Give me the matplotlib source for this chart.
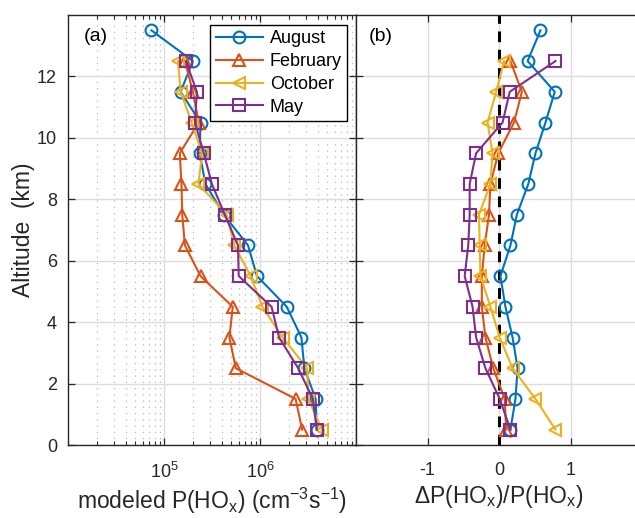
import matplotlib
matplotlib.use("Agg")
import matplotlib.pyplot as plt
from matplotlib.ticker import LogLocator, NullFormatter, FixedLocator

plt.rcParams['font.family'] = ['Liberation Sans', 'DejaVu Sans']
plt.rcParams['mathtext.fontset'] = 'custom'
plt.rcParams['mathtext.rm'] = 'Liberation Sans'
plt.rcParams['mathtext.it'] = 'Liberation Sans'

# ---------------- data ----------------
alt_aug = [13.5, 12.5, 11.5, 10.5, 9.5, 8.5, 7.5, 6.5, 5.5, 4.5, 3.5, 2.5, 1.5, 0.5]
alt_oth = [12.5, 11.5, 10.5, 9.5, 8.5, 7.5, 6.5, 5.5, 4.5, 3.5, 2.5, 1.5, 0.5]

p_aug = [7.4e4, 2.0e5, 1.49e5, 2.4e5, 2.35e5, 2.7e5, 4.2e5, 7.5e5, 9.3e5, 1.9e6, 2.7e6, 2.9e6, 3.8e6, 3.9e6]
p_feb = [1.65e5, 2.0e5, 2.3e5, 1.46e5, 1.52e5, 1.55e5, 1.65e5, 2.4e5, 5.2e5, 4.8e5, 5.6e5, 2.35e6, 2.75e6]
p_oct = [1.4e5, 1.49e5, 1.94e5, 2.5e5, 2.28e5, 4.5e5, 5.4e5, 8.0e5, 1.06e6, 1.72e6, 3.1e6, 3.2e6, 4.4e6]
p_may = [1.69e5, 2.2e5, 2.1e5, 2.6e5, 3.15e5, 4.3e5, 5.9e5, 6.0e5, 1.32e6, 1.58e6, 2.5e6, 3.55e6, 3.9e6]

d_aug = [0.58, 0.40, 0.78, 0.65, 0.51, 0.41, 0.25, 0.16, 0.02, 0.09, 0.19, 0.26, 0.23, 0.16]
d_feb = [0.16, 0.32, 0.21, -0.01, -0.12, -0.14, -0.20, -0.24, -0.24, -0.19, -0.08, 0.08, 0.10]
d_oct = [0.07, -0.04, -0.16, -0.09, -0.12, -0.28, -0.27, -0.26, -0.12, 0.01, 0.19, 0.51, 0.79]
d_may = [0.79, 0.15, 0.05, -0.32, -0.41, -0.41, -0.43, -0.48, -0.37, -0.32, -0.19, 0.01, 0.16]

labels = ['August', 'February', 'October', 'May']
colors = ['#0072BD', '#D95319', '#EDB120', '#7E2F8E']
markers = ['o', '^', '<', 's']

ytick_vals = [0, 2, 4, 6, 8, 10, 12]
xtick_left = [1e5, 1e6]
xtick_right = [-1, 0, 1]

# ---------------- figure ----------------
W, H = 635, 518
fig = plt.figure(figsize=(W / 100, H / 100), dpi=100)

def ax_rect(x0, x1, y0, y1):
    return [x0 / W, 1 - y1 / H, (x1 - x0) / W, (y1 - y0) / H]

axL = fig.add_axes(ax_rect(68, 356, 15, 445))
axR = fig.add_axes(ax_rect(356, 642, 15, 445))

lw = 1.5
ms = 8.5
tick_fs = 13
lab_fs = 16.5

series_L = [(alt_aug, p_aug), (alt_oth, p_feb), (alt_oth, p_oct), (alt_oth, p_may)]
series_R = [(alt_aug, d_aug), (alt_oth, d_feb), (alt_oth, d_oct), (alt_oth, d_may)]

for (a, v), lab, c, m in zip(series_L, labels, colors, markers):
    axL.plot(v, a, color=c, marker=m, markersize=ms, markerfacecolor='none',
             markeredgewidth=1.5, linewidth=lw, label=lab, zorder=3)

axR.axvline(0, color='black', linestyle=(0, (3.5, 2.5)), linewidth=2.2, zorder=2)
for (a, v), lab, c, m in zip(series_R, labels, colors, markers):
    axR.plot(v, a, color=c, marker=m, markersize=ms, markerfacecolor='none',
             markeredgewidth=1.5, linewidth=lw, label=lab, zorder=3)

# left axes formatting
axL.set_xscale('log')
axL.set_xlim(1e4, 1e7)
axL.set_ylim(0, 14)
axL.xaxis.set_major_locator(FixedLocator(xtick_left))
axL.xaxis.set_minor_locator(LogLocator(base=10, subs=range(2, 10), numticks=20))
axL.xaxis.set_minor_formatter(NullFormatter())
axL.set_yticks(ytick_vals)
axL.grid(True, which='major', color='#dcdcdc', linewidth=1.0, linestyle='-', zorder=0)
axL.grid(True, which='minor', axis='x', color='#b8b8b8', linewidth=0.9,
         linestyle=(0, (1, 4)), zorder=0)
axL.set_axisbelow(True)
axL.tick_params(which='both', direction='in', top=True, right=True, labelsize=tick_fs,
                colors='#262626', pad=8)
axL.tick_params(which='major', length=5, width=0.9)
axL.tick_params(which='minor', length=3, width=0.8)
axL.tick_params(axis='x', which='major', pad=12)
axL.set_xlabel('modeled P(HO$_\\mathregular{x}$) (cm$^{\\mathregular{-3}}$s$^{\\mathregular{-1}}$)',
               fontsize=lab_fs, color='#262626', labelpad=3)
axL.set_ylabel('Altitude  (km)', fontsize=lab_fs, color='#262626', labelpad=1)
axL.text(0.055, 0.97, '(a)', transform=axL.transAxes, fontsize=14,
         va='top', ha='left', color='black')
leg = axL.legend(loc='upper right', bbox_to_anchor=(0.97, 0.977), fontsize=tick_fs,
                 frameon=True, fancybox=False, edgecolor='black', framealpha=1,
                 handlelength=2.6, borderpad=0.3, labelspacing=0.32,
                 handletextpad=0.4, borderaxespad=0.0)
leg.get_frame().set_linewidth(1.0)

# right axes formatting
axR.set_xlim(-2, 2)
axR.set_ylim(0, 14)
axR.set_xticks(xtick_right)
axR.set_xticklabels(['-1', '0', '1'])
axR.set_yticks(ytick_vals)
axR.set_yticklabels([])
axR.grid(True, which='major', color='#dcdcdc', linewidth=1.0, linestyle='-', zorder=0)
axR.set_axisbelow(True)
axR.tick_params(which='both', direction='in', top=True, right=False, labelsize=tick_fs,
                colors='#262626')
axR.tick_params(which='major', length=5, width=0.9)
axR.tick_params(axis='x', which='major', pad=12)
axR.set_xlabel('$\\Delta$P(HO$_\\mathregular{x}$)/P(HO$_\\mathregular{x}$)',
               fontsize=lab_fs, color='#262626', labelpad=3)
axR.text(0.045, 0.97, '(b)', transform=axR.transAxes, fontsize=14,
         va='top', ha='left', color='black')

for ax in (axL, axR):
    for s in ax.spines.values():
        s.set_color('#262626')
        s.set_linewidth(1.0)

fig.savefig('out.png', dpi=100)
